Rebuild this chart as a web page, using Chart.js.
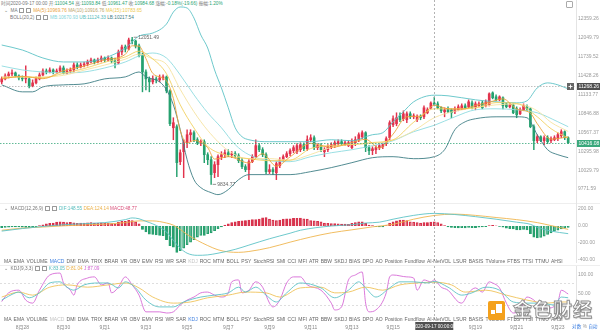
<!DOCTYPE html>
<html lang="zh-CN">
<head>
<meta charset="utf-8">
<title>BTC/USDT 4H</title>
<script src="https://cdn.jsdelivr.net/npm/chart.js@4.4.1/dist/chart.umd.min.js"></script>
<style>
  html, body { margin: 0; padding: 0; background: #fff; }
  body { width: 600px; height: 330px; position: relative; overflow: hidden;
         font-family: "Liberation Sans", "Noto Sans CJK SC", sans-serif; color: #777; }
  canvas { position: absolute; left: 0; }
  .row { position: absolute; font-size: 4.7px; line-height: 6px; white-space: nowrap; }
  .dn { color: #2aa574; }
  .ib { display: inline-block; width: 3px; height: 3px; border: 0.8px solid #999; border-radius: 0.5px;
        margin: 0 0.8px; vertical-align: middle; }
  .sep { position: absolute; left: 0; width: 600px; height: 1px; background: #eee; }
  .tabs { position: absolute; left: 4px; width: 559px; display: flex; justify-content: space-between;
          font-size: 5px; line-height: 6px; color: #666; }
  .tabs .on { color: #3d7fe0; }
  .tabs .off { color: #c4c4c4; }
  #wm { position: absolute; left: 488px; top: 298px; width: 112px; height: 26px; }
  #wm .ic { position: absolute; left: 0; top: 3px; width: 17px; height: 19px; background: #f4a11c; border-radius: 2px; }
  #wm .ic i { position: absolute; background: #fff; }
  #wm .wt { position: absolute; left: 25px; top: -1px; white-space: nowrap; font-family: "Noto Sans CJK SC";
            font-size: 19px; line-height: 24px; font-weight: bold; color: #fff; letter-spacing: 1px;
            -webkit-text-stroke: 0.9px #8c8c8c; text-shadow: 0.8px 0.8px 1px rgba(0,0,0,0.35); }
</style>
</head>
<body>
<div class="row" id="h1" style="left:1px;top:1px">时间2020-09-17 00:00 开:<span class="dn">11004.54</span> 高:<span class="dn">11093.84</span> 低:<span class="dn">10961.47</span> 收:<span class="dn">10984.68</span> 涨幅:<span class="dn">-0.18%(-19.66)</span> 振幅:<span class="dn">1.20%</span></div>
<div class="row" style="left:4px;top:8px">⌄ &nbsp;MA <i class="ib"></i><i class="ib"></i> <span style="color:#e9a23b">MA(5):10969.76</span> <span style="color:#b9a46a">MA(10):10916.76</span> <span style="color:#ecc94b">MA(15):10783.65</span></div>
<div class="row" style="left:10px;top:15px">BOLL(20,2) <i class="ib"></i><i class="ib"></i> <span style="color:#7fd3da">MB:10670.93</span> <span style="color:#55bcbc">UB:11124.33</span> <span style="color:#3f7e84">LB:10217.54</span></div>
<div style="position:absolute;left:566px;top:1px;width:5px;height:5px;border:1px solid #aaa;border-radius:1px"></div>

<canvas id="main" width="600" height="203" style="top:0"></canvas>
<div class="sep" style="top:203px"></div>
<canvas id="macd" width="600" height="60" style="top:203px"></canvas>
<div class="row" style="left:4px;top:206px">⌄ &nbsp;MACD(12,26,9) <i class="ib"></i><i class="ib"></i> <span style="color:#55bcbc">DIF:148.55</span> <span style="color:#eab04a">DEA:124.14</span> <span style="color:#d9507a">MACD:48.77</span></div>
<div class="tabs" id="tabsTop" style="top:258px"></div>
<div class="sep" style="top:265px"></div>
<canvas id="kdj" width="600" height="66" style="top:266px"></canvas>
<div class="row" style="left:4px;top:266px">⌄ &nbsp;KDJ(9,3,3) <i class="ib"></i><i class="ib"></i> <span style="color:#55bcbc">K:83.05</span> <span style="color:#eab04a">D:81.04</span> <span style="color:#d264d2">J:87.09</span></div>
<div class="tabs" id="tabsBottom" style="top:316px"></div>
<div class="row" style="left:572px;top:324px;color:#999"><span style="color:#3d7fe0">对数</span> % <span style="color:#3d7fe0">自动</span></div>

<div id="wm"><div class="ic"><i style="left:8px;top:3px;width:6px;height:9px"></i><i style="left:3px;top:9px;width:4px;height:4px"></i></div><span class="wt">金色财经</span></div>

<script>
// 4h candles, first one at 2020-08-27 00:00
var open = [11331, 11378, 11424, 11456, 11472, 11424, 11393, 11378, 11378, 11268,
    11315, 11378, 11440, 11503, 11487, 11519, 11487, 11503, 11551, 11472,
    11503, 11519, 11599, 11567, 11599, 11615, 11647, 11679, 11647, 11679,
    11711, 11679, 11711, 11663, 11631, 11809, 11890, 11857, 12006, 11990,
    11907, 11760, 11487, 11378, 11331, 11378, 11362, 11393, 11409, 11191,
    10635, 10650, 10148, 10289, 10417, 10533, 10562, 10460, 10417, 10432,
    10246, 10176, 9995, 10106, 10218, 10246, 10274, 10246, 10260, 10232,
    10162, 10078, 10037, 10148, 10218, 10375, 10317, 10246, 10009, 10037,
    9995, 10092, 10176, 10218, 10260, 10303, 10289, 10317, 10389, 10331,
    10460, 10489, 10346, 10375, 10289, 10317, 10360, 10375, 10403, 10432,
    10389, 10375, 10346, 10417, 10460, 10504, 10562, 10346, 10303, 10317,
    10346, 10360, 10403, 10489, 10679, 10694, 10812, 10768, 10753, 10842,
    10797, 10753, 10797, 10797, 10857, 10932, 11004.54, 10992, 10932, 10872,
    10917, 10902, 10872, 10902, 10917, 10962, 10947, 11007, 10947, 10962,
    11007, 10962, 10977, 11160, 11099, 11053, 11084, 10992, 10947, 10977,
    10917, 10842, 10902, 10947, 10917, 10650, 10446, 10504, 10446, 10489,
    10446, 10460, 10475, 10518, 10577, 10489];
var high = [11409, 11456, 11487, 11519, 11487, 11440, 11424, 11583, 11393, 11362,
    11409, 11472, 11535, 11535, 11551, 11535, 11535, 11583, 11583, 11535,
    11551, 11631, 11631, 11631, 11647, 11679, 11711, 11695, 11711, 11744,
    11728, 11744, 11728, 11711, 11841, 11923, 11923, 12039, 12051.49, 12006,
    11940, 11792, 11519, 11409, 11424, 11409, 11440, 11440, 11424, 11206,
    10783, 10679, 10317, 10460, 10606, 10606, 10591, 10489, 10460, 10460,
    10274, 10218, 10148, 10246, 10289, 10317, 10317, 10289, 10289, 10260,
    10190, 10106, 10176, 10246, 10460, 10403, 10346, 10274, 10106, 10065,
    10148, 10204, 10246, 10289, 10331, 10375, 10403, 10417, 10417, 10518,
    10533, 10518, 10403, 10403, 10346, 10389, 10417, 10446, 10460, 10460,
    10446, 10446, 10475, 10504, 10562, 10591, 10577, 10375, 10360, 10375,
    10403, 10417, 10504, 10738, 10812, 10857, 10857, 10887, 10872, 10872,
    10842, 10827, 10827, 10962, 10932, 11023, 11093.84, 11023, 10947, 10932,
    10947, 10917, 10947, 10977, 10992, 10992, 11053, 11038, 11023, 11023,
    11038, 11053, 11160, 11176, 11130, 11115, 11099, 11007, 10992, 10992,
    10947, 10932, 10992, 10977, 10932, 10679, 10533, 10518, 10518, 10518,
    10504, 10518, 10562, 10606, 10591, 10504];
var low = [11300, 11362, 11393, 11424, 11409, 11362, 11346, 11315, 11237, 11253,
    11300, 11362, 11424, 11456, 11472, 11456, 11472, 11487, 11456, 11456,
    11472, 11487, 11535, 11551, 11567, 11583, 11631, 11615, 11631, 11647,
    11647, 11663, 11631, 11551, 11615, 11760, 11809, 11841, 11940, 11874,
    11728, 11176, 11206, 11176, 11300, 11315, 11331, 11362, 11160, 10664,
    10460, 9940, 10106, 9926, 10346, 10432, 10432, 10389, 10375, 10134,
    10106, 9834.77, 9926, 9940, 10176, 10204, 10218, 10204, 10204, 10134,
    10051, 10009, 9899, 10134, 10204, 10289, 10218, 9982, 9982, 9968,
    9899, 10065, 10148, 10204, 10232, 10274, 10260, 10289, 10303, 10303,
    10432, 10317, 10317, 10289, 10218, 10289, 10331, 10346, 10375, 10375,
    10375, 10360, 10331, 10375, 10432, 10475, 10289, 10246, 10246, 10260,
    10317, 10331, 10375, 10460, 10650, 10664, 10723, 10738, 10709, 10768,
    10768, 10723, 10753, 10768, 10842, 10917, 10961.47, 10917, 10857, 10797,
    10857, 10783, 10842, 10887, 10902, 10917, 10932, 10917, 10902, 10947,
    10917, 10947, 10962, 11068, 11038, 11038, 10917, 10932, 10932, 10842,
    10783, 10827, 10887, 10887, 10635, 10317, 10417, 10432, 10389, 10403,
    10417, 10446, 10446, 10489, 10460, 10403];
var close = [11378, 11424, 11456, 11472, 11424, 11393, 11378, 11393, 11268, 11315,
    11378, 11440, 11503, 11487, 11519, 11487, 11503, 11551, 11472, 11503,
    11519, 11599, 11567, 11599, 11615, 11647, 11679, 11647, 11679, 11711,
    11679, 11711, 11663, 11631, 11809, 11890, 11857, 12006, 11990, 11907,
    11760, 11487, 11378, 11331, 11378, 11362, 11393, 11409, 11191, 10694,
    10709, 10134, 10274, 10417, 10533, 10562, 10460, 10417, 10432, 10246,
    10176, 9968, 10106, 10218, 10246, 10274, 10246, 10260, 10232, 10162,
    10078, 10037, 10148, 10218, 10375, 10317, 10246, 10009, 10037, 10009,
    10120, 10176, 10218, 10260, 10303, 10346, 10375, 10389, 10331, 10460,
    10489, 10346, 10375, 10317, 10317, 10360, 10389, 10417, 10432, 10403,
    10417, 10417, 10432, 10460, 10533, 10562, 10346, 10303, 10331, 10346,
    10375, 10389, 10475, 10709, 10768, 10783, 10753, 10842, 10842, 10797,
    10812, 10797, 10783, 10932, 10902, 11004.34, 10984.68, 10932, 10887, 10902,
    10872, 10857, 10917, 10947, 10962, 10932, 11023, 10932, 10992, 10992,
    10932, 11023, 11145, 11084, 11053, 11099, 10962, 10947, 10977, 10857,
    10827, 10902, 10962, 10917, 10650, 10446, 10504, 10446, 10489, 10432,
    10475, 10489, 10533, 10577, 10489, 10416.08];

// overlay lines, [candle, value]
var ma5 = [[0, 11378], [6, 11418], [12, 11381], [18, 11506], [24, 11580], [30, 11679], [36, 11770], [38, 11910],
    [40, 11903], [42, 11702], [44, 11465], [48, 11346], [50, 11074], [52, 10594], [54, 10411], [56, 10449],
    [60, 10346], [62, 10184], [66, 10218], [72, 10131], [76, 10260], [80, 10084], [84, 10215], [90, 10408],
    [96, 10351], [102, 10420], [106, 10466], [110, 10340], [114, 10542], [118, 10797], [122, 10806], [126, 10969.76],
    [130, 10917], [134, 10911], [138, 10968], [142, 11017], [146, 11068], [150, 10914], [154, 10851], [156, 10694],
    [160, 10469], [165, 10501]];
var ma10 = [[0, 11393], [6, 11409], [12, 11397], [18, 11465], [24, 11541], [30, 11642], [36, 11728], [40, 11822],
    [44, 11695], [48, 11458], [52, 10977], [56, 10632], [60, 10364], [66, 10232], [72, 10190], [78, 10162],
    [84, 10169], [90, 10334], [96, 10378], [102, 10390], [108, 10420], [114, 10459], [120, 10716], [126, 10916.76],
    [132, 10917], [138, 10933], [144, 11011], [150, 10997], [156, 10797], [160, 10621], [165, 10485]];
var ma15 = [[0, 11409], [6, 11409], [12, 11409], [18, 11434], [24, 11516], [30, 11597], [36, 11692], [40, 11774],
    [44, 11697], [48, 11607], [52, 11214], [56, 10872], [60, 10596], [66, 10304], [72, 10189], [78, 10191],
    [84, 10169], [90, 10250], [96, 10351], [102, 10393], [108, 10407], [114, 10456], [120, 10590], [126, 10783.65],
    [132, 10880], [138, 10935], [144, 10977], [150, 10989], [156, 10887], [160, 10715], [165, 10581]];
var bollMid = [[0, 11583], [6, 11519], [12, 11487], [18, 11472], [24, 11487], [30, 11551], [36, 11647], [40, 11744],
    [44, 11792], [48, 11711], [52, 11440], [56, 11130], [60, 10857], [64, 10635], [68, 10389], [72, 10246],
    [78, 10162], [84, 10148], [90, 10218], [96, 10274], [102, 10317], [108, 10375], [114, 10446], [120, 10577],
    [126, 10670.93], [132, 10797], [138, 10902], [144, 10917], [150, 10902], [156, 10857], [162, 10723], [165, 10650]];
var bollUp = [[0, 11923], [6, 11841], [12, 11711], [18, 11647], [24, 11647], [30, 11711], [36, 11874], [40, 12072],
    [44, 12122], [48, 12274], [50, 12479], [52, 12566], [54, 12548], [56, 12376], [58, 12089], [60, 11874],
    [62, 11519], [64, 11237], [66, 10932], [68, 10635], [70, 10504], [72, 10460], [78, 10432], [84, 10432],
    [90, 10432], [96, 10460], [102, 10446], [108, 10533], [111, 10562], [114, 10723], [117, 10872], [120, 11023],
    [126, 11124.33], [130, 11115], [138, 11053], [144, 11023], [150, 11007], [153, 11038], [156, 11237], [159, 11315],
    [162, 11284], [165, 11222]];
var bollLow = [[0, 11284], [6, 11176], [9, 11176], [12, 11253], [18, 11284], [24, 11300], [30, 11378], [36, 11409],
    [40, 11487], [42, 11409], [46, 11331], [48, 11206], [50, 10977], [52, 10606], [54, 10176], [56, 9899],
    [58, 9790], [61, 9723], [63, 9696], [66, 9764], [69, 9899], [72, 9968], [78, 9968], [84, 9968],
    [90, 10009], [96, 10065], [102, 10134], [108, 10204], [114, 10218], [120, 10190], [126, 10217.54], [129, 10317],
    [132, 10606], [135, 10723], [138, 10768], [144, 10797], [150, 10797], [153, 10783], [156, 10533], [159, 10317],
    [162, 10246], [165, 10204]];

// MACD(12,26,9)
var macdHist = [-20, -18, -15, -12, -10, -12, -15, -18, -20, -15,
    -8, 5, 15, 25, 30, 35, 45, 50, 45, 40,
    42, 38, 32, 35, 35, 38, 40, 35, 35, 38,
    35, 35, 28, 25, 45, 55, 55, 68, 65, 50,
    25, -40, -70, -95, -100, -105, -110, -115, -160, -230,
    -250, -310, -290, -260, -220, -190, -160, -130, -110, -110,
    -90, -80, -55, -30, -10, 10, 25, 40, 50, 55,
    60, 65, 70, 75, 75, 80, 95, 100, 80, 70,
    65, 70, 80, 85, 85, 90, 90, 94, 85, 80,
    65, 60, 55, 50, 35, 30, 28, 28, 25, 22,
    22, 20, 30, 40, 50, 50, 30, 10, 5, -8,
    -12, -10, 5, 35, 50, 60, 70, 70, 65, 50,
    45, 40, 35, 40, 40, 45, 48.77, 40, 25, 5,
    -10, -18, -20, -22, -20, -22, -18, -20, -20, -15,
    -12, -8, 5, 8, 3, -5, -15, -25, -30, -35,
    -45, -45, -40, -45, -90, -130, -140, -135, -120, -100,
    -80, -60, -50, -35, -25, -18];
var dif = [[0, -60], [6, -30], [12, -5], [18, 15], [24, 28], [30, 40], [36, 75], [38, 95], [40, 85], [42, 55],
    [44, 25], [46, -15], [48, -70], [50, -170], [52, -260], [54, -320], [57, -345], [60, -340], [63, -320],
    [68, -275], [72, -225], [78, -150], [84, -85], [87, -50], [96, 0], [102, 15], [106, 35], [110, 45], [114, 80],
    [120, 125], [126, 148.55], [132, 135], [138, 110], [144, 80], [150, 45], [154, 20], [156, -15], [160, -60], [165, -90]];
var dea = [[0, -50], [6, -25], [12, -12], [18, 2], [24, 12], [30, 22], [36, 40], [40, 60], [44, 60], [48, 35],
    [50, 10], [52, -40], [54, -100], [57, -170], [60, -230], [63, -280], [66, -305], [69, -310], [72, -300],
    [78, -255], [84, -190], [90, -130], [96, -80], [102, -45], [108, -10], [114, 20], [120, 80], [126, 124.14],
    [132, 140], [138, 125], [144, 100], [150, 75], [156, 40], [160, 5], [165, -40]];

// KDJ(9,3,3)
var kLine = [[0, 34], [4, 53], [5, 55], [8, 40], [11, 53], [14, 79], [17, 82], [19, 68], [21, 60], [24, 74],
    [28, 79], [31, 79], [34, 66], [36, 82], [39, 66], [42, 34], [46, 16], [50, 16], [53, 29], [58, 42],
    [62, 47], [66, 53], [69, 68], [71, 55], [74, 68], [77, 47], [80, 29], [83, 53], [87, 79], [93, 66],
    [97, 40], [101, 60], [104, 82], [106, 66], [109, 42], [113, 66], [116, 82], [120, 82], [124, 79], [126, 83.05],
    [130, 68], [134, 47], [137, 53], [141, 68], [145, 60], [149, 29], [153, 26], [157, 26], [161, 21], [163, 42],
    [165, 40]];
var dLine = [[0, 42], [5, 55], [9, 47], [14, 68], [19, 74], [25, 68], [31, 74], [36, 79], [40, 66], [44, 42],
    [50, 26], [55, 29], [60, 40], [66, 47], [71, 55], [77, 53], [81, 42], [87, 66], [93, 68], [97, 53],
    [101, 55], [106, 68], [111, 60], [116, 74], [121, 79], [126, 81.04], [131, 74], [135, 55], [141, 60], [147, 47],
    [153, 34], [159, 26], [163, 29], [165, 29]];
var jLine = [[0, 30], [2, 53], [5, 60], [7, 34], [9, 26], [11, 60], [14, 100], [17, 105], [18, 79], [20, 60],
    [21, 47], [22, 74], [25, 92], [27, 95], [29, 74], [31, 79], [32, 53], [34, 68], [36, 95], [38, 74],
    [40, 47], [42, 3], [46, 3], [48, 0], [50, 3], [52, 21], [54, 34], [56, 42], [58, 53], [60, 55],
    [62, 47], [64, 42], [66, 53], [67, 82], [69, 87], [70, 53], [72, 60], [74, 82], [76, 68], [78, 26],
    [79, 16], [81, 34], [83, 79], [85, 95], [87, 95], [89, 74], [93, 60], [96, 26], [97, 8], [99, 16],
    [101, 87], [103, 100], [105, 108], [106, 26], [107, 3], [109, 8], [112, 53], [113, 95], [114, 100], [118, 95],
    [120, 92], [121, 60], [123, 87], [125, 82], [126, 87.09], [128, 68], [130, 60], [133, 29], [134, 26], [136, 53],
    [138, 66], [140, 55], [142, 82], [143, 79], [145, 66], [147, 26], [149, 0], [151, 8], [153, 42], [155, 34],
    [157, 16], [159, 13], [162, 29], [163, 60], [165, 50]];

// axis labels
var priceTicks = [12359.26, 12049.79, 11739.52, 11428.26, 11133.77, 10846.88, 10567.37, 10295.98, 10029.79, 9771.59];
var macdTicks = [200, 0, -200, -400];
var kdjTicks = [100, 50];
var indicatorTabs = ['MA', 'EMA', 'VOLUME', 'MACD', 'DMI', 'DMA', 'TRIX', 'BRAR', 'VR', 'OBV', 'EMV', 'RSI', 'WR',
    'SAR', 'KDJ', 'ROC', 'MTM', 'BOLL', 'PSY', 'StochRSI', 'SMI', 'CCI', 'MFI', 'ATR', 'BBW', 'SKDJ', 'BIAS',
    'DPO', 'AO', 'Position', 'Fundflow', 'AI-NetVOL', 'LSUR', 'BASIS', 'TVolume', 'FTBS', 'TTSI', 'TTMU', 'AHSI'];

var firstCandle = Date.UTC(2020, 7, 27, 0);
var firstLabelDay = Date.UTC(2020, 7, 28, 0);
var hourMs = 3600000;
var cursorIdx = 126;          // 2020-09-17 00:00
var cursorPrice = 11268.26;

var UP = '#e2334d', DOWN = '#26a16f';
var GRID_TXT = '#9a9a9a';
var FONT = '"Liberation Sans", "Noto Sans CJK SC", sans-serif';

function candleTime(i) { return new Date(firstCandle + i * 4 * hourMs); }

function fillTabs(el, active, inactive) {
    indicatorTabs.forEach(function (t) {
        var s = document.createElement('span');
        s.textContent = t;
        if (t === active) s.className = 'on';
        if (t === inactive) s.className = 'off';
        el.appendChild(s);
    });
}
fillTabs(document.getElementById('tabsTop'), 'MACD', 'KDJ');
fillTabs(document.getElementById('tabsBottom'), 'KDJ', 'MACD');

function lineSet(label, pts, color) {
    return {
        type: 'line', label: label,
        data: pts.map(function (p) { return { x: p[0], y: p[1] }; }),
        borderColor: color, borderWidth: 0.9, pointRadius: 0,
        cubicInterpolationMode: 'monotone', fill: false, order: 0
    };
}

var idx = close.map(function (_, i) { return i; });
var candleColor = idx.map(function (i) { return close[i] >= open[i] ? UP : DOWN; });

var xAxis = { type: 'linear', min: -0.5, max: 167.28, offset: false, display: false };

function rightAxis(extra) {
    var ax = {
        position: 'right',
        grid: { display: false, drawTicks: false },
        border: { display: true, color: '#e4e4e4' },
        ticks: { color: GRID_TXT, font: { size: 5, family: FONT }, padding: 2,
                 autoSkip: false, callback: function (v) { return Number(v).toFixed(2); } },
        afterFit: function (s) { s.width = 24; s.paddingTop = 0; s.paddingBottom = 0; }
    };
    return Object.assign(ax, extra);
}

function tickSetter(list) {
    return function (s) { s.ticks = list.map(function (v) { return { value: v }; }); };
}

// dashed vertical crosshair on every pane
var crossV = {
    id: 'crossV',
    afterDatasetsDraw: function (chart) {
        var ctx = chart.ctx, x = Math.round(chart.scales.x.getPixelForValue(cursorIdx)) + 0.5;
        ctx.save();
        ctx.strokeStyle = '#a0a0a0';
        ctx.lineWidth = 0.8;
        ctx.setLineDash([2, 2]);
        ctx.beginPath();
        ctx.moveTo(x, 0);
        ctx.lineTo(x, chart.height);
        ctx.stroke();
        ctx.restore();
    }
};

function priceBox(ctx, area, y, text, bg) {
    ctx.fillStyle = bg;
    ctx.fillRect(area.right + 1, y - 3.5, 23, 7);
    ctx.fillStyle = '#fff';
    ctx.textAlign = 'left';
    ctx.textBaseline = 'middle';
    ctx.fillText(text, area.right + 2.5, y + 0.3);
}

var priceMarks = {
    id: 'priceMarks',
    afterDraw: function (chart) {
        var ctx = chart.ctx, a = chart.chartArea, x = chart.scales.x, y = chart.scales.y;
        ctx.save();
        ctx.font = '5px ' + FONT;
        ctx.lineWidth = 0.8;

        // crosshair price
        var cy = Math.round(y.getPixelForValue(cursorPrice)) + 0.5;
        ctx.strokeStyle = '#b0b0b0';
        ctx.setLineDash([1.5, 1.5]);
        ctx.beginPath(); ctx.moveTo(a.left, cy); ctx.lineTo(a.right, cy); ctx.stroke();
        ctx.setLineDash([]);
        priceBox(ctx, a, cy, cursorPrice.toFixed(2), '#505050');
        ctx.fillStyle = '#666';
        ctx.fillRect(a.right - 9, cy - 3.5, 7, 7);
        ctx.fillStyle = '#fff';
        ctx.fillRect(a.right - 5.9, cy - 2, 0.9, 4);
        ctx.fillRect(a.right - 7.5, cy - 0.45, 4, 0.9);

        // last price
        var last = close[close.length - 1];
        var ly = Math.round(y.getPixelForValue(last)) + 0.5;
        ctx.strokeStyle = '#3aa87c';
        ctx.setLineDash([1.5, 1.5]);
        ctx.beginPath(); ctx.moveTo(a.left, ly); ctx.lineTo(a.right, ly); ctx.stroke();
        ctx.setLineDash([]);
        priceBox(ctx, a, ly, last.toFixed(2), '#3aa87c');

        // highest high / lowest low
        var hi = 0, lo = 0;
        idx.forEach(function (i) {
            if (high[i] > high[hi]) hi = i;
            if (low[i] < low[lo]) lo = i;
        });
        [[hi, high[hi]], [lo, low[lo]]].forEach(function (m) {
            var px = x.getPixelForValue(m[0]) + 1.5, py = y.getPixelForValue(m[1]);
            ctx.strokeStyle = '#777';
            ctx.beginPath(); ctx.moveTo(px, py); ctx.lineTo(px + 3.5, py); ctx.stroke();
            ctx.fillStyle = '#666';
            ctx.textAlign = 'left';
            ctx.textBaseline = 'middle';
            ctx.fillText(m[1].toFixed(2), px + 4.5, py);
        });
        ctx.restore();
    }
};

var baseOptions = {
    responsive: false, animation: false, events: [],
    layout: { padding: 0 },
    plugins: { legend: { display: false }, tooltip: { enabled: false } }
};

new Chart(document.getElementById('main'), {
    type: 'bar',
    data: {
        datasets: [
            lineSet('MA5', ma5, '#eda33a'),
            lineSet('MA10', ma10, '#f2d060'),
            lineSet('MA15', ma15, '#f6e3a0'),
            lineSet('MB', bollMid, '#8fdbe0'),
            lineSet('UB', bollUp, '#5ec3c6'),
            lineSet('LB', bollLow, '#3f7f86'),
            {
                label: 'body', order: 1, grouped: false, barThickness: 2, minBarLength: 1,
                data: idx.map(function (i) { return { x: i, y: [open[i], close[i]] }; }),
                backgroundColor: candleColor
            },
            {
                label: 'wick', order: 2, grouped: false, barThickness: 0.8,
                data: idx.map(function (i) { return { x: i, y: [low[i], high[i]] }; }),
                backgroundColor: candleColor
            }
        ]
    },
    options: Object.assign({}, baseOptions, {
        scales: {
            x: xAxis,
            y: rightAxis({ type: 'logarithmic', min: 9584.6, max: 12688, afterBuildTicks: tickSetter(priceTicks) })
        }
    }),
    plugins: [crossV, priceMarks]
});

// filled bars while the histogram grows, hollow while it shrinks
var histFill = macdHist.map(function (v, i) {
    var grow = i === 0 || Math.abs(v) >= Math.abs(macdHist[i - 1]);
    if (v >= 0) return grow ? '#d8324c' : 'rgba(216,50,76,0.25)';
    return grow ? '#27a06e' : 'rgba(39,160,110,0.25)';
});
var histEdge = macdHist.map(function (v) { return v >= 0 ? '#d8324c' : '#27a06e'; });

new Chart(document.getElementById('macd'), {
    type: 'bar',
    data: {
        datasets: [
            lineSet('DIF', dif, '#5ec3c6'),
            lineSet('DEA', dea, '#efb54f'),
            {
                label: 'MACD', order: 1, grouped: false, barThickness: 2.2,
                data: macdHist.map(function (v, i) { return { x: i, y: v }; }),
                backgroundColor: histFill, borderColor: histEdge, borderWidth: 0.6
            }
        ]
    },
    options: Object.assign({}, baseOptions, {
        scales: {
            x: xAxis,
            y: rightAxis({ type: 'linear', min: -435.3, max: 270.6, afterBuildTicks: tickSetter(macdTicks) })
        }
    }),
    plugins: [crossV]
});

var kdjGuides = {
    id: 'kdjGuides',
    beforeDatasetsDraw: function (chart) {
        var ctx = chart.ctx, a = chart.chartArea, y = chart.scales.y;
        ctx.save();
        ctx.strokeStyle = '#d6d6d6';
        ctx.lineWidth = 0.8;
        ctx.setLineDash([2, 2]);
        [80, 20].forEach(function (v) {
            var py = Math.round(y.getPixelForValue(v)) + 0.5;
            ctx.beginPath(); ctx.moveTo(a.left, py); ctx.lineTo(a.right, py); ctx.stroke();
        });
        ctx.restore();
    },
    afterDraw: function (chart) {
        // time box under the crosshair
        var ctx = chart.ctx, a = chart.chartArea;
        var x = chart.scales.x.getPixelForValue(cursorIdx);
        var t = candleTime(cursorIdx);
        var p = function (n) { return String(n).padStart(2, '0'); };
        var txt = t.getUTCFullYear() + '-' + p(t.getUTCMonth() + 1) + '-' + p(t.getUTCDate()) + ' ' +
            p(t.getUTCHours()) + ':00:00';
        ctx.save();
        ctx.fillStyle = '#505050';
        ctx.fillRect(x - 19, a.bottom + 4, 38, 8);
        ctx.fillStyle = '#fff';
        ctx.font = '4.6px ' + FONT;
        ctx.textAlign = 'center';
        ctx.textBaseline = 'middle';
        ctx.fillText(txt, x, a.bottom + 8.3);
        ctx.restore();
    }
};

new Chart(document.getElementById('kdj'), {
    type: 'line',
    data: {
        datasets: [
            lineSet('K', kLine, '#5ec3c6'),
            lineSet('D', dLine, '#efc35a'),
            lineSet('J', jLine, '#d66ad6')
        ]
    },
    options: Object.assign({}, baseOptions, {
        scales: {
            x: {
                type: 'linear', min: -0.5, max: 167.28, offset: false,
                grid: { display: false, drawTicks: false },
                border: { display: false },
                ticks: {
                    color: '#888', font: { size: 5, family: FONT }, padding: 6.5, autoSkip: false, maxRotation: 0,
                    callback: function (v) {
                        var t = candleTime(v);
                        return (t.getUTCMonth() + 1) + '月' + t.getUTCDate();
                    }
                },
                afterBuildTicks: function (s) {
                    // a label every second day at midnight
                    s.ticks = idx.filter(function (i) {
                        var t = candleTime(i);
                        return t.getUTCHours() === 0 && Math.round((t - firstLabelDay) / (24 * hourMs)) % 2 === 0 &&
                            t >= firstLabelDay;
                    }).map(function (i) { return { value: i }; });
                },
                afterFit: function (s) { s.height = 14; s.paddingLeft = 0; s.paddingRight = 0; }
            },
            y: rightAxis({ type: 'linear', min: -13.2, max: 123.7, afterBuildTicks: tickSetter(kdjTicks) })
        }
    }),
    plugins: [kdjGuides, crossV]
});
</script>
</body>
</html>
